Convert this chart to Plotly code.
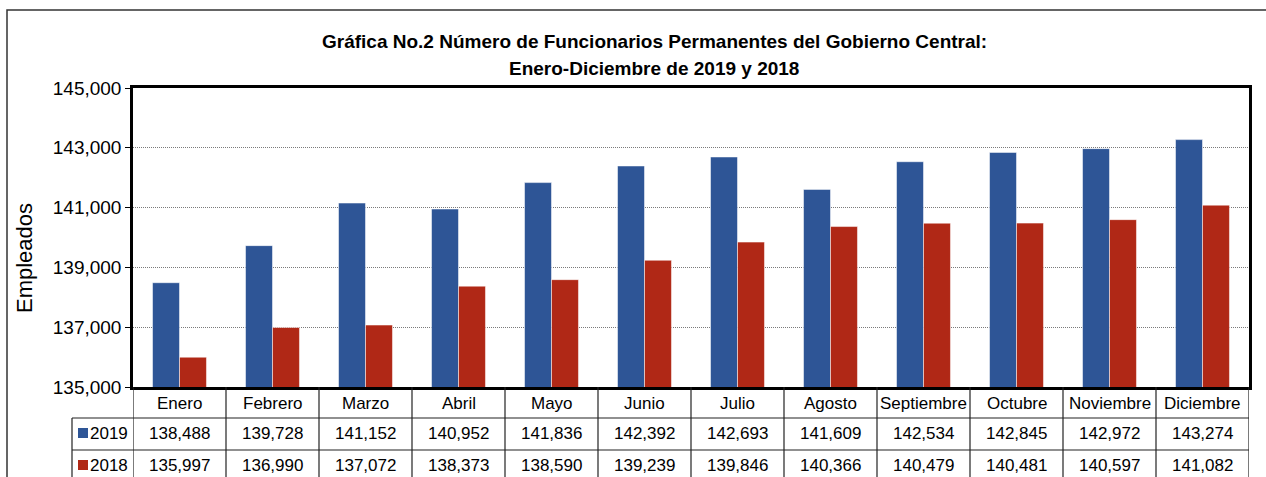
import plotly.graph_objects as go

months = ["Enero", "Febrero", "Marzo", "Abril", "Mayo", "Junio", "Julio",
          "Agosto", "Septiembre", "Octubre", "Noviembre", "Diciembre"]
v2019 = [138488, 139728, 141152, 140952, 141836, 142392, 142693,
         141609, 142534, 142845, 142972, 143274]
v2018 = [135997, 136990, 137072, 138373, 138590, 139239, 139846,
         140366, 140479, 140481, 140597, 141082]
series_names = ["2019", "2018"]
colors = ["#2E5596", "#B02816"]
title_lines = ["Gráfica No.2 Número de Funcionarios Permanentes del Gobierno Central:",
               "Enero-Diciembre de 2019 y 2018"]
y_title = "Empleados"

W, H = 1266, 477
FONT = "Liberation Sans, Arial, sans-serif"

def px(x):
    return x / W

def py(y):
    return 1 - y / H

plot_l, plot_r, plot_t, plot_b = 133, 1249, 88, 387

fig = go.Figure()
for name, vals, col in zip(series_names, [v2019, v2018], colors):
    fig.add_trace(go.Bar(x=months, y=vals, name=name, marker_color=col,
                         marker_line_color="rgba(255,255,255,0.5)",
                         marker_line_width=1))

fig.update_layout(
    width=W, height=H, autosize=False,
    margin=dict(l=0, r=0, t=0, b=0, pad=0, autoexpand=False),
    paper_bgcolor="white", plot_bgcolor="white",
    barmode="group", bargap=0.42, bargroupgap=0,
    showlegend=False,
    font=dict(family=FONT, size=17, color="black"),
    xaxis=dict(domain=[px(plot_l), px(plot_r)], showticklabels=False,
               showline=True, linecolor="black", linewidth=2.5, mirror=True,
               ticks="", showgrid=False, range=[-0.5, 11.5], automargin=False),
    yaxis=dict(domain=[py(plot_b), py(plot_t)], range=[135000, 145000],
               tick0=135000, dtick=2000, tickformat=",d", showline=True,
               linecolor="black", linewidth=2.5, mirror=True, ticks="outside",
               ticklen=5, tickcolor="black", showgrid=True, gridcolor="#7a7a7a",
               griddash="1px,1px", gridwidth=1, zeroline=False, automargin=False,
               tickfont=dict(size=19, family=FONT)),
)

shapes = []
anns = []
# outer frame
shapes.append(dict(type="rect", xref="paper", yref="paper", x0=px(7), x1=1.02,
                   y0=-0.05, y1=py(10), line=dict(color="#333333", width=1.5)))

row_header = (387, 418)
row_2019 = (418, 450)
row_2018 = (450, 482)
line_style = dict(color="#222222", width=1.2)

# vertical lines for table columns
for k in range(13):
    shapes.append(dict(type="line", xref="x", yref="paper", x0=k - 0.5, x1=k - 0.5,
                       y0=py(row_2018[1]), y1=py(row_header[0]), line=line_style))
# legend column left edge
shapes.append(dict(type="line", xref="paper", yref="paper", x0=px(72), x1=px(72),
                   y0=py(row_2018[1]), y1=py(row_2019[0]), line=line_style))
# horizontal lines
for yy in [row_header[1], row_2019[1], row_2018[1]]:
    shapes.append(dict(type="line", xref="paper", yref="paper", x0=px(72), x1=px(plot_r),
                       y0=py(yy), y1=py(yy), line=line_style))

# header labels
for m in months:
    anns.append(dict(x=m, xref="x", y=py(sum(row_header) / 2 + 1), yref="paper",
                     text=m, showarrow=False, font=dict(size=17, family=FONT),
                     xanchor="center", yanchor="middle"))
# values
for vals, row in [(v2019, row_2019), (v2018, row_2018)]:
    for m, v in zip(months, vals):
        anns.append(dict(x=m, xref="x", y=py(sum(row) / 2 - 1), yref="paper",
                         text=f"{v:,}", showarrow=False, font=dict(size=17, family=FONT),
                         xanchor="center", yanchor="middle"))
# legend keys
for name, col, row in zip(series_names, colors, [row_2019, row_2018]):
    cy = sum(row) / 2 - 1
    shapes.append(dict(type="rect", xref="paper", yref="paper", x0=px(78), x1=px(88),
                       y0=py(cy + 5), y1=py(cy - 5), fillcolor=col, line=dict(width=0)))
    anns.append(dict(x=px(88), xref="paper", y=py(cy), yref="paper", text=name,
                     showarrow=False, font=dict(size=17, family=FONT),
                     xanchor="left", yanchor="middle"))

# title
anns.append(dict(x=px(654), xref="paper", y=py(42), yref="paper", text=f"<b>{title_lines[0]}</b>",
                 showarrow=False, font=dict(size=19, family=FONT), xanchor="center", yanchor="middle"))
anns.append(dict(x=px(654), xref="paper", y=py(68), yref="paper", text=f"<b>{title_lines[1]}</b>",
                 showarrow=False, font=dict(size=19, family=FONT), xanchor="center", yanchor="middle"))
# y title
anns.append(dict(x=px(24), xref="paper", y=py(258), yref="paper", text=y_title, textangle=-90,
                 showarrow=False, font=dict(size=22, family=FONT), xanchor="center", yanchor="middle"))

fig.update_layout(shapes=shapes, annotations=anns)
fig.write_html("out.html", config={"displayModeBar": False, "responsive": False},
               post_script="document.body.style.margin='0';")
